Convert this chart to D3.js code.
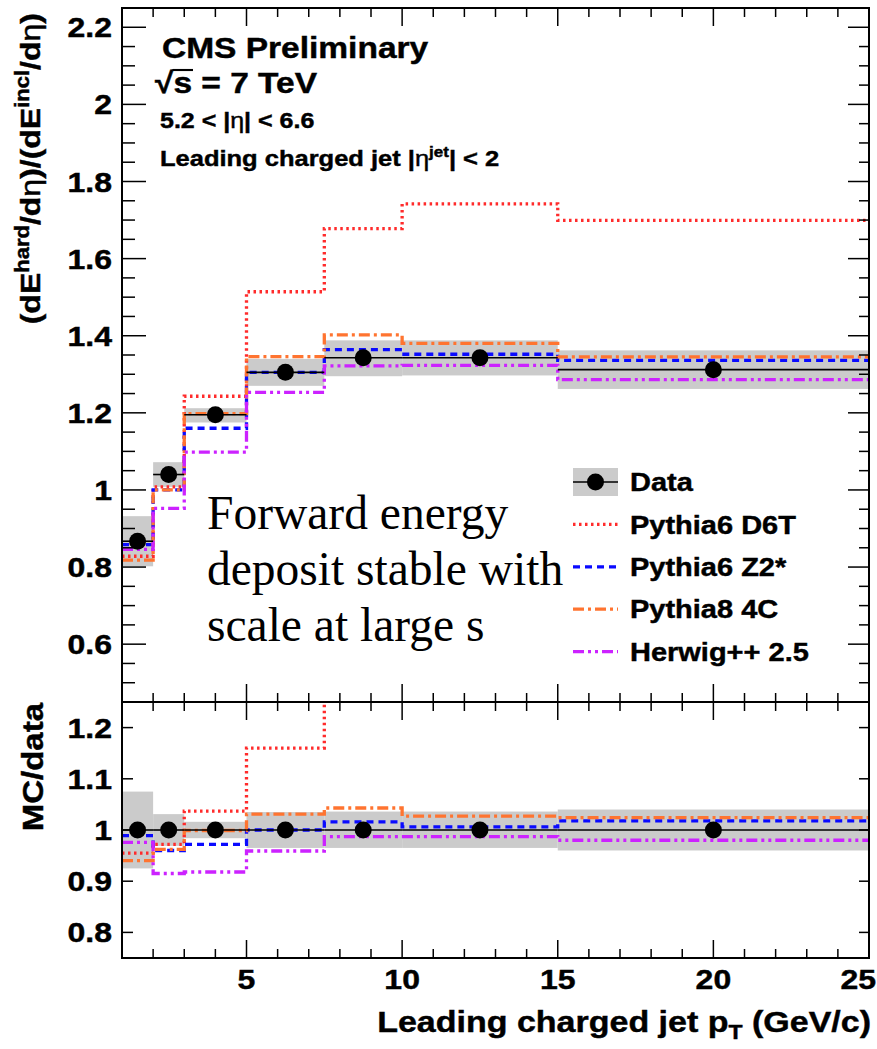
<!DOCTYPE html>
<html><head><meta charset="utf-8">
<script src="https://cdn.jsdelivr.net/npm/d3@7"></script>
<style>html,body{margin:0;padding:0;background:#fff;} svg{display:block;}</style>
</head><body>
<svg id="chart" width="877" height="1049"></svg>
<script>
// ---------------- data ----------------
const binEdges = [1, 2, 3, 5, 7.5, 10, 15, 25];
const dataValues   = [0.867, 1.040, 1.195, 1.305, 1.343, 1.343, 1.312];
const dataBandLow  = [0.802, 1.008, 1.175, 1.270, 1.295, 1.297, 1.262];
const dataBandHigh = [0.932, 1.072, 1.212, 1.340, 1.388, 1.388, 1.362];

const pythia6D6T  = [0.828, 1.008, 1.243, 1.514, 1.678, 1.742, 1.699];
const pythia6Z2   = [0.858, 1.000, 1.160, 1.305, 1.364, 1.352, 1.336];
const pythia8_4C  = [0.818, 1.000, 1.198, 1.346, 1.402, 1.380, 1.345];
const herwig25    = [0.846, 0.952, 1.098, 1.253, 1.322, 1.323, 1.286];

const ratioBandLow  = [0.925, 0.969, 0.984, 0.965, 0.965, 0.965, 0.960];
const ratioBandHigh = [1.075, 1.031, 1.016, 1.035, 1.036, 1.036, 1.040];
const ratioData     = [1, 1, 1, 1, 1, 1, 1];
const ratioD6T  = [0.955, 0.972, 1.037, 1.160, 1.255, 1.290, 1.300];
const ratioZ2   = [0.989, 0.960, 0.972, 1.000, 1.016, 1.006, 1.018];
const ratio4C   = [0.940, 0.962, 0.999, 1.031, 1.043, 1.027, 1.024];
const ratioHw   = [0.976, 0.915, 0.918, 0.959, 0.987, 0.987, 0.980];

const seriesNames = ["Pythia6 D6T", "Pythia6 Z2*", "Pythia8 4C", "Herwig++ 2.5"];
const legendLabels = ["Data"].concat(seriesNames);
const xTicks = [5, 10, 15, 20, 25];
const yTopTicks = [0.6, 0.8, 1, 1.2, 1.4, 1.6, 1.8, 2, 2.2];
const yBotTicks = [0.8, 0.9, 1, 1.1, 1.2];
const annotationLines = ["Forward energy", "deposit stable with", "scale at large s"];

// ---------------- styles ----------------
const seriesStyles = [
  {color: "#ff2b2b", dash: "2.5,3.5"},
  {color: "#0a0aff", dash: "7,5"},
  {color: "#ff7430", dash: "11,4,3,4"},
  {color: "#cc22ff", dash: "11,4,3,4,3,4"}
];
const SANS = "'Liberation Sans', Arial, Helvetica, sans-serif";
const SERIF = "'Liberation Serif', 'Times New Roman', serif";
const SQ = 0.88;

// ---------------- layout ----------------
const L = 122, R = 869, T = 8, MID = 702, B = 958;
const svg = d3.select("#chart");
const x = d3.scaleLinear().domain([1, 25]).range([L, R]);
const yTop = d3.scaleLinear().domain([0.45, 2.25]).range([MID, T]);
const yBot = d3.scaleLinear().domain([0.75, 1.25]).range([B, MID]);

const defs = svg.append("defs");
defs.append("clipPath").attr("id", "clipTop").append("rect")
  .attr("x", L).attr("y", T).attr("width", R - L).attr("height", MID - T);
defs.append("clipPath").attr("id", "clipBot").append("rect")
  .attr("x", L).attr("y", MID).attr("width", R - L).attr("height", B - MID);

function label(parent, px, py, rot, size, anchor, parts, family, weight) {
  const g = parent.append("g").attr("transform", `translate(${px},${py}) rotate(${rot}) scale(1,${SQ})`);
  const t = g.append("text").attr("font-size", size).attr("text-anchor", anchor)
    .attr("font-family", family || SANS).attr("font-weight", weight || "bold").attr("fill", "#000")
    .attr("stroke", "#000").attr("stroke-width", 0.5);
  parts.forEach(p => {
    if (typeof p === "string") p = {t: p};
    const ts = t.append("tspan").text(p.t);
    if (p.dy) ts.attr("dy", p.dy);
    if (p.size) ts.attr("font-size", p.size);
    if (p.w) ts.attr("font-weight", p.w);
  });
  return t;
}

function stepPts(vals) {
  const pts = vals.map((v, i) => [binEdges[i], v]);
  pts.push([binEdges[vals.length], vals[vals.length - 1]]);
  return pts;
}

function drawPanel(g, yS, low, high, dvals, mcs) {
  g.selectAll("rect.band").data(dvals).enter().append("rect")
    .attr("x", (d, i) => x(binEdges[i]))
    .attr("width", (d, i) => x(binEdges[i + 1]) - x(binEdges[i]))
    .attr("y", (d, i) => yS(high[i]))
    .attr("height", (d, i) => yS(low[i]) - yS(high[i]))
    .attr("fill", "#cbcbcb");
  mcs.forEach((vals, k) => {
    g.append("path")
      .attr("d", d3.line().x(d => x(d[0])).y(d => yS(d[1])).curve(d3.curveStepAfter)(stepPts(vals)))
      .attr("fill", "none").attr("stroke", seriesStyles[k].color)
      .attr("stroke-width", 3.3).attr("stroke-dasharray", seriesStyles[k].dash);
  });
  g.selectAll("line.dbar").data(dvals).enter().append("line")
    .attr("x1", (d, i) => x(binEdges[i])).attr("x2", (d, i) => x(binEdges[i + 1]))
    .attr("y1", d => yS(d)).attr("y2", d => yS(d))
    .attr("stroke", "#000").attr("stroke-width", 1.6);
  g.selectAll("circle.dpt").data(dvals).enter().append("circle")
    .attr("cx", (d, i) => x((binEdges[i] + binEdges[i + 1]) / 2))
    .attr("cy", d => yS(d)).attr("r", 8.5).attr("fill", "#000");
}

const gTop = svg.append("g").attr("clip-path", "url(#clipTop)");
drawPanel(gTop, yTop, dataBandLow, dataBandHigh, dataValues, [pythia6D6T, pythia6Z2, pythia8_4C, herwig25]);
const gBot = svg.append("g").attr("clip-path", "url(#clipBot)");
drawPanel(gBot, yBot, ratioBandLow, ratioBandHigh, ratioData, [ratioD6T, ratioZ2, ratio4C, ratioHw]);

// ---------------- axes ----------------
const axG = svg.append("g").attr("stroke", "#000");
function tick(x1, y1, x2, y2, w) {
  axG.append("line").attr("x1", x1).attr("y1", y1).attr("x2", x2).attr("y2", y2).attr("stroke-width", w || 1.5);
}
const xMinor = d3.range(2, 25, 1);
xMinor.forEach(v => {
  const major = xTicks.includes(v);
  const len = major ? 18 : 9;
  tick(x(v), T, x(v), T + len);
  tick(x(v), MID, x(v), MID - len);
  tick(x(v), MID, x(v), MID + len);
  tick(x(v), B, x(v), B - len);
});
d3.range(0.5, 2.2501, 0.05).forEach(v => {
  const major = yTopTicks.some(t => Math.abs(t - v) < 1e-6);
  const lenL = major ? 24 : 13, lenR = major ? 21 : 10;
  tick(L, yTop(v), L + lenL, yTop(v));
  tick(R, yTop(v), R - lenR, yTop(v));
});
yBotTicks.forEach(v => {
  tick(L, yBot(v), L + 11, yBot(v));
  tick(R, yBot(v), R - 10, yBot(v));
});
svg.append("rect").attr("x", L).attr("y", T).attr("width", R - L).attr("height", MID - T)
  .attr("fill", "none").attr("stroke", "#000").attr("stroke-width", 2);
svg.append("rect").attr("x", L).attr("y", MID).attr("width", R - L).attr("height", B - MID)
  .attr("fill", "none").attr("stroke", "#000").attr("stroke-width", 2);

// tick labels
const TL = 32, capOff = 0.716 * TL * SQ / 2;
yTopTicks.forEach(v => label(svg, 112, yTop(v) + capOff, 0, TL, "end", [String(v)]));
yBotTicks.forEach(v => label(svg, 112, yBot(v) + capOff, 0, TL, "end", [String(v)]));
xTicks.forEach((v, i) => {
  const last = i === xTicks.length - 1;
  label(svg, last ? 876 : x(v), 989, 0, TL, last ? "end" : "middle", [String(v)]);
});

// axis titles
label(svg, 871, 1032, 0, 34, "end",
  ["Leading charged jet p", {t: "T", size: 23, dy: 8}, {t: " (GeV/c)", dy: -8}]);
label(svg, 40, 13, -90, 32, "end",
  ["(dE", {t: "hard", size: 22, dy: -13}, {t: "/d", dy: 13}, {t: "η", w: "normal"}, ")/(dE",
   {t: "incl", size: 22, dy: -13}, {t: "/d", dy: 13}, {t: "η", w: "normal"}, ")"]);
label(svg, 43, 703, -90, 33, "end", ["MC/data"]);

// CMS labels
label(svg, 162, 58, 0, 33.5, "start", ["CMS Preliminary"]);
const sq = label(svg, 155, 93, 0, 33.5, "start", ["√s = 7 TeV"]);
{
  const n = sq.node();
  const s0 = n.getStartPositionOfChar(1).x, s1 = n.getEndPositionOfChar(1).x;
  d3.select(n.parentNode).append("line").attr("x1", s0 - 1).attr("x2", s1 + 1)
    .attr("y1", -0.78 * 33.5).attr("y2", -0.78 * 33.5).attr("stroke", "#000").attr("stroke-width", 2.4);
}
label(svg, 160, 128, 0, 25, "start", ["5.2 < |", {t: "η", w: "normal"}, "| < 6.6"]);
label(svg, 160, 166, 0, 25.5, "start",
  ["Leading charged jet |", {t: "η", w: "normal"}, {t: "jet", size: 17, dy: -10}, {t: "| < 2", dy: 10}]);

// annotation
annotationLines.forEach((s, i) => {
  svg.append("text").attr("x", 207).attr("y", 529 + i * 56).attr("font-family", SERIF)
    .attr("font-size", 47.5).attr("fill", "#000").text(s);
});

// legend
const legX0 = 573, legX1 = 618, legTextX = 630, legY0 = 482, legDY = 42.4;
const lg = svg.append("g");
legendLabels.forEach((name, i) => {
  const cy = legY0 + i * legDY;
  if (i === 0) {
    lg.append("rect").attr("x", legX0).attr("y", cy - 14).attr("width", legX1 - legX0).attr("height", 28).attr("fill", "#cbcbcb");
    lg.append("line").attr("x1", legX0).attr("x2", legX1).attr("y1", cy).attr("y2", cy).attr("stroke", "#000").attr("stroke-width", 1.6);
    lg.append("circle").attr("cx", (legX0 + legX1) / 2).attr("cy", cy).attr("r", 8.5).attr("fill", "#000");
  } else {
    const st = seriesStyles[i - 1];
    lg.append("line").attr("x1", legX0).attr("x2", legX1).attr("y1", cy).attr("y2", cy)
      .attr("stroke", st.color).attr("stroke-width", 3.3).attr("stroke-dasharray", st.dash);
  }
  label(lg, legTextX, cy + 0.716 * 29 * SQ / 2, 0, 29, "start", [name]);
});
</script>
</body></html>
